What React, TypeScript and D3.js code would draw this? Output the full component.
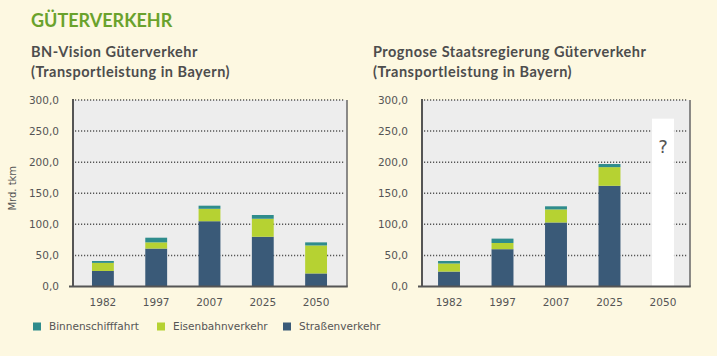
import React from "react";
import * as d3 from "d3";

const years = ["1982", "1997", "2007", "2025", "2050"];
const seriesKeys = ["Straßenverkehr", "Eisenbahnverkehr", "Binnenschifffahrt"];
const legendOrder = ["Binnenschifffahrt", "Eisenbahnverkehr", "Straßenverkehr"];
const seriesColors = ["#3a5a78", "#b6d232", "#2f8c8c"];

const visionStrasse = [25, 61, 105, 80, 21];
const visionBahn = [13, 10, 20, 29, 45];
const visionBinnen = [3, 7.5, 5, 6, 5];

const prognoseStrasse = [24, 60, 103, 162, 0];
const prognoseBahn = [13, 10, 21, 30, 0];
const prognoseBinnen = [4, 7, 5, 5, 0];
const prognoseUnknown = [0, 0, 0, 0, 270];

const yTicks = [0, 50, 100, 150, 200, 250, 300];

const W = 717;
const H = 356;
const bodyFont = "'DejaVu Sans', Verdana, sans-serif";
const headFont = "Lato, 'Open Sans', sans-serif";
const textColor = "#555555";

function rows(s: number[], b: number[], n: number[]) {
  return years.map((y, i) => ({
    year: y,
    [seriesKeys[0]]: s[i],
    [seriesKeys[1]]: b[i],
    [seriesKeys[2]]: n[i],
  }));
}

type ChartProps = {
  x0: number;
  x1: number;
  bandLeft: number;
  bandRight: number;
  title1: string;
  title2: string;
  titleX: number;
  data: any[];
  unknown?: number[];
  showYTitle?: boolean;
};

const yScale = d3.scaleLinear().domain([0, 300]).range([286.5, 100]);

function Chart(p: ChartProps) {
  const x = d3
    .scaleBand<string>()
    .domain(years)
    .range([p.bandLeft, p.bandRight])
    .paddingInner(0.59)
    .paddingOuter(0.3);
  const stack = d3.stack<any>().keys(seriesKeys)(p.data);
  const top = yScale(300);
  const bottom = yScale(0);
  return (
    <g>
      <text x={p.titleX} y={57} fontFamily={headFont} fontWeight={700} fontSize={14.5} letterSpacing={0.5} fill="#4d4d4d">
        {p.title1}
      </text>
      <text x={p.titleX} y={77} fontFamily={headFont} fontWeight={700} fontSize={14.5} letterSpacing={0.5} fill="#4d4d4d">
        {p.title2}
      </text>
      <rect x={p.x0} y={top} width={p.x1 - p.x0} height={bottom - top} fill="#ededed" />
      {yTicks
        .filter((t) => t > 0)
        .map((t) => (
          <line
            key={t}
            x1={p.x0 + 2}
            x2={p.x1 - 2}
            y1={yScale(t)}
            y2={yScale(t)}
            stroke="#555"
            strokeWidth={1.5}
            strokeDasharray="1.2,1.8"
          />
        ))}
      {stack.map((layer, li) => (
        <g key={layer.key} fill={seriesColors[li]}>
          {layer.map((d, i) =>
            d[1] > d[0] ? (
              <rect
                key={i}
                x={x(years[i])}
                width={x.bandwidth()}
                y={yScale(d[1])}
                height={yScale(d[0]) - yScale(d[1])}
              />
            ) : null
          )}
        </g>
      ))}
      {p.unknown &&
        p.unknown.map((v, i) =>
          v > 0 ? (
            <g key={"u" + i}>
              <rect x={x(years[i])} width={x.bandwidth()} y={yScale(v)} height={yScale(0) - yScale(v)} fill="#ffffff" />
              <text
                x={(x(years[i]) as number) + x.bandwidth() / 2}
                y={yScale(v) + 34}
                textAnchor="middle"
                fontFamily={bodyFont}
                fontSize={18}
                fill={textColor}
              >
                ?
              </text>
            </g>
          ) : null
        )}
      <line x1={p.x0} x2={p.x0} y1={top - 1} y2={bottom} stroke="#555" strokeWidth={2} />
      <line x1={p.x1} x2={p.x1} y1={top} y2={bottom} stroke="#666" strokeWidth={1.5} />
      <line x1={p.x0 - 4} x2={p.x1 + 0.75} y1={bottom} y2={bottom} stroke="#555" strokeWidth={2} />
      {yTicks.map((t) => (
        <text
          key={t}
          x={p.x0 - 14}
          y={yScale(t)}
          dy="0.35em"
          textAnchor="end"
          fontFamily={bodyFont}
          fontSize={10.5}
          fill={textColor}
        >
          {d3.format(".1f")(t).replace(".", ",")}
        </text>
      ))}
      {years.map((y) => (
        <text
          key={y}
          x={(x(y) as number) + x.bandwidth() / 2}
          y={306}
          textAnchor="middle"
          fontFamily={bodyFont}
          fontSize={10.5}
          fill={textColor}
        >
          {y}
        </text>
      ))}
      {p.showYTitle && (
        <text
          transform={`translate(16,${(top + bottom) / 2 - 5}) rotate(-90)`}
          textAnchor="middle"
          fontFamily={bodyFont}
          fontSize={10}
          fill={textColor}
        >
          Mrd. tkm
        </text>
      )}
    </g>
  );
}

export default function App() {
  const legendX = [33, 157, 283];
  return (
    <svg width={W} height={H} style={{ display: "block", position: "absolute", left: 0, top: 0 }}>
      <rect width={W} height={H} fill="#fdf8e1" />
      <text x={31} y={27} fontFamily={headFont} fontWeight={700} fontSize={18} fill="#6aa22c">
        GÜTERVERKEHR
      </text>
      <Chart
        x0={73}
        x1={347}
        bandLeft={76}
        bandRight={343}
        titleX={31}
        title1="BN-Vision Güterverkehr"
        title2="(Transportleistung in Bayern)"
        data={rows(visionStrasse, visionBahn, visionBinnen)}
        showYTitle
      />
      <Chart
        x0={422}
        x1={690}
        bandLeft={422}
        bandRight={690}
        titleX={373}
        title1="Prognose Staatsregierung Güterverkehr"
        title2="(Transportleistung in Bayern)"
        data={rows(prognoseStrasse, prognoseBahn, prognoseBinnen)}
        unknown={prognoseUnknown}
      />
      {legendOrder.map((k, i) => (
        <g key={k}>
          <rect x={legendX[i]} y={322.5} width={8} height={8} fill={seriesColors[seriesKeys.indexOf(k)]} />
          <text x={legendX[i] + 16} y={330} fontFamily={bodyFont} fontSize={10.5} fill={textColor}>
            {k}
          </text>
        </g>
      ))}
    </svg>
  );
}
